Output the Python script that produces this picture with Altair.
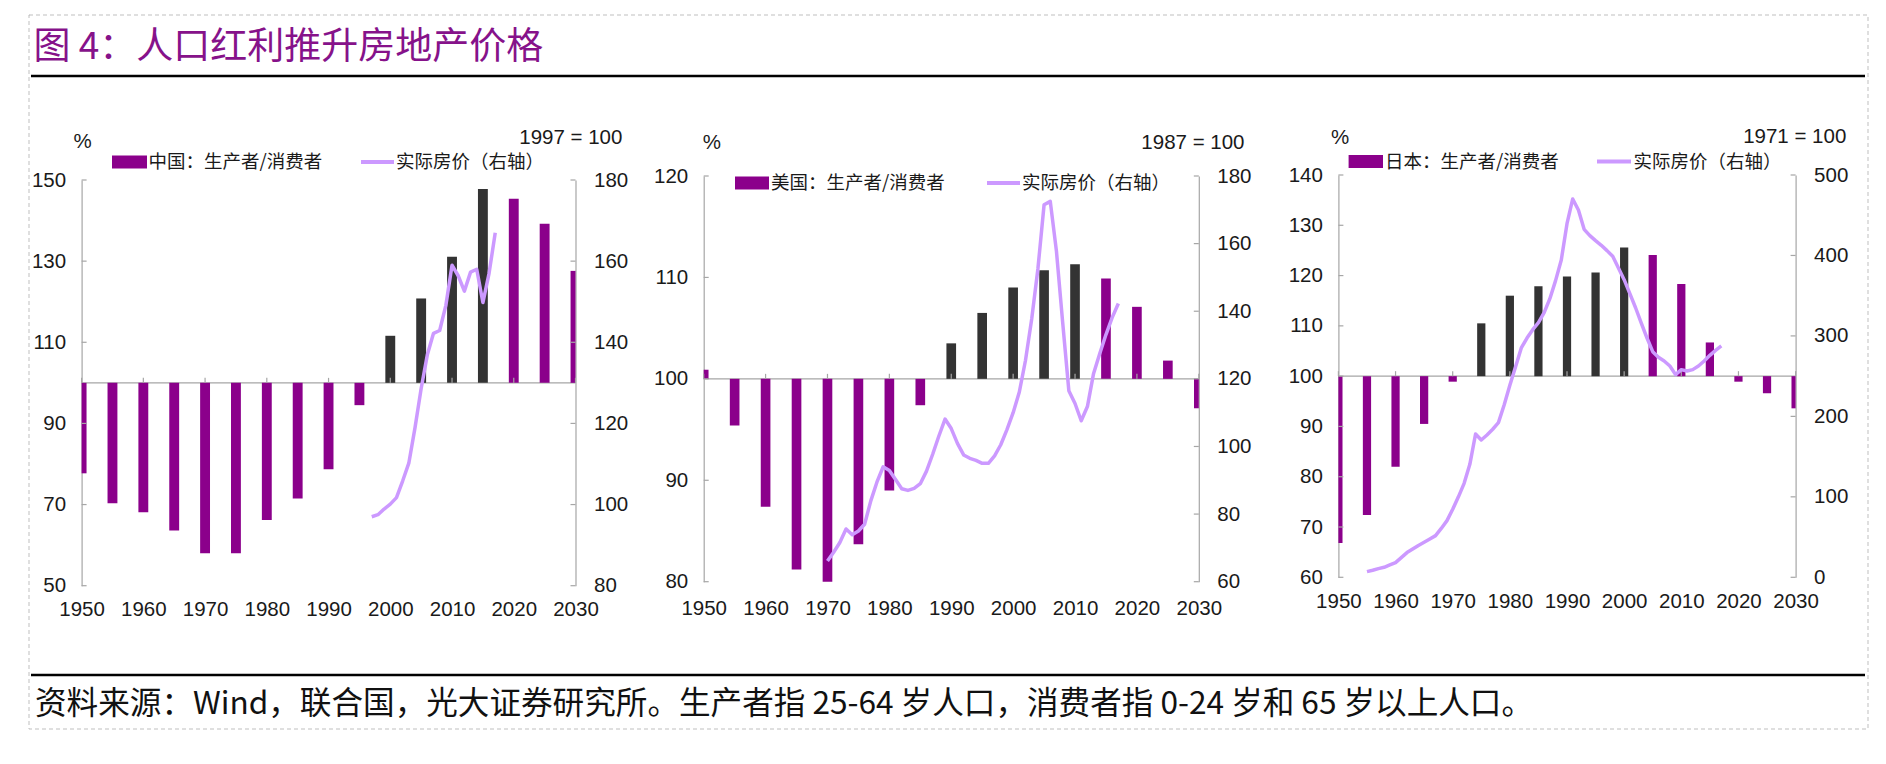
import altair as alt
import pandas as pd

# ---------------- data ----------------
bar_years = list(range(1950, 2031, 5))

cn_ratio = [77.7, 70.3, 68.1, 63.6, 58.0, 58.0, 66.2, 71.5, 78.7, 94.5,
            111.6, 120.8, 131.1, 147.8, 145.4, 139.2, 127.6]
cn_phase = ["other"] * 10 + ["dividend"] * 4 + ["other"] * 3

us_ratio = [100.9, 95.4, 87.4, 81.2, 80.0, 83.7, 89.0, 97.4, 103.5, 106.5,
            109.0, 110.7, 111.3, 109.9, 107.1, 101.8, 97.1]
us_phase = ["other"] * 8 + ["dividend"] * 5 + ["other"] * 4

jp_ratio = [66.8, 72.4, 82.0, 90.5, 98.9, 110.5, 116.0, 117.9, 119.8, 120.6,
            125.6, 124.1, 118.3, 106.7, 98.9, 96.6, 93.6]
jp_phase = ["other"] * 5 + ["dividend"] * 6 + ["other"] * 6

cn_price_years = list(range(1997, 2018))
cn_price = [97.0, 97.5, 98.9, 100.1, 101.7, 105.8, 110.2, 118.9, 128.6, 136.9,
            142.2, 142.9, 149.1, 159.0, 156.4, 152.6, 157.3, 158.0, 149.8, 157.0,
            167.0]

us_price_years = list(range(1970, 2018))
us_price = [66.1, 68.7, 71.6, 75.6, 73.9, 75.0, 77.0, 83.9, 89.5, 94.0,
            92.9, 90.2, 87.5, 87.0, 87.6, 89.0, 92.7, 97.7, 103.1, 108.1,
            105.3, 100.9, 97.5, 96.5, 95.9, 95.0, 95.0, 97.2, 100.5, 105.0,
            110.0, 116.1, 125.5, 137.7, 152.5, 171.5, 172.5, 157.7, 136.8, 116.5,
            112.7, 107.6, 111.8, 121.6, 127.5, 133.1, 138.1, 142.3]

jp_price_years = list(range(1955, 2018))
jp_price = [7.0, 8.7, 10.8, 12.4, 15.3, 18.2, 24.4, 30.7, 35.2, 39.6,
            43.5, 47.6, 51.8, 60.7, 70.4, 84.5, 100.0, 116.8, 140.4, 178.1,
            170.7, 176.9, 184.0, 192.2, 214.2, 238.6, 261.8, 285.0, 297.4, 307.8,
            316.5, 328.9, 346.3, 368.7, 394.4, 439.5, 470.2, 456.5, 432.5, 424.6,
            418.4, 412.6, 406.0, 398.9, 384.4, 369.9, 352.5, 335.0, 316.0, 297.4,
            280.4, 273.4, 268.8, 262.6, 251.9, 258.1, 256.4, 258.1, 262.6, 268.8,
            275.9, 282.1, 287.5]

year_ticks = list(range(1950, 2031, 10))
cn_left_ticks = [50, 70, 90, 110, 130, 150]
cn_right_ticks = [80, 100, 120, 140, 160, 180]
us_left_ticks = [80, 90, 100, 110, 120]
us_right_ticks = [60, 80, 100, 120, 140, 160, 180]
jp_left_ticks = [60, 70, 80, 90, 100, 110, 120, 130, 140]
jp_right_ticks = [0, 100, 200, 300, 400, 500]

title_text = "图 4：人口红利推升房地产价格"
source_text = ("资料来源：Wind，联合国，光大证券研究所。生产者指 25-64 岁人口，"
               "消费者指 0-24 岁和 65 岁以上人口。")
ratio_labels = ["中国：生产者/消费者", "美国：生产者/消费者", "日本：生产者/消费者"]
price_label = "实际房价（右轴）"
base_labels = ["1997 = 100", "1987 = 100", "1971 = 100"]
unit_label = "%"

# ---------------- style / layout ----------------
W, H = 1870, 748
PURPLE = "#8B008B"
DARK = "#333333"
LILAC = "#CC99FF"
AXIS_GREY = "#A6A6A6"
TEXT = "#1A1A1A"
TITLE_COLOR = "#86128A"
NUM_FONT = "Liberation Sans, Arial, sans-serif"
NUM_SIZE = 20.5
CJK_FONT = "Noto Sans CJK SC"

panels = [
    dict(years=bar_years, ratio=cn_ratio, phase=cn_phase, hw=0.8,
         pyears=cn_price_years, price=cn_price,
         ldom=[50, 150], lticks=cn_left_ticks, rdom=[80, 180], rticks=cn_right_ticks,
         x0=73.6, x1=567.5, yb=577.7, yt=172.0, xpad=14,
         leg=dict(r0=104, r1=139, ly=154, t1=140.5, l0=353, l1=386, t2=388),
         unit=(74.5, 133.7), base=(614.4, 130.3), label=ratio_labels[0], blabel=base_labels[0]),
    dict(years=bar_years, ratio=us_ratio, phase=us_phase, hw=0.78,
         pyears=us_price_years, price=us_price,
         ldom=[80, 120], lticks=us_left_ticks, rdom=[60, 180], rticks=us_right_ticks,
         x0=695.7, x1=1190.8, yb=573.7, yt=168.0, xpad=16.5,
         leg=dict(r0=727, r1=761, ly=175, t1=763, l0=979, l1=1012, t2=1014),
         unit=(703.8, 134.7), base=(1236.5, 134.7), label=ratio_labels[1], blabel=base_labels[1]),
    dict(years=bar_years, ratio=jp_ratio, phase=jp_phase, hw=0.72,
         pyears=jp_price_years, price=jp_price,
         ldom=[60, 140], lticks=jp_left_ticks, rdom=[0, 500], rticks=jp_right_ticks,
         x0=1330.4, x1=1787.6, yb=569.3, yt=167.0, xpad=14,
         leg=dict(r0=1340.6, r1=1375, ly=153.5, t1=1377, l0=1589, l1=1623, t2=1625.5),
         unit=(1332, 130.3), base=(1838.3, 129.3), label=ratio_labels[2], blabel=base_labels[2]),
]


def one_row(**kw):
    return pd.DataFrame({k: [v] for k, v in kw.items()})


def text_layer(s, x, y, size, font, align="left", color=TEXT):
    return alt.Chart(one_row(t=s)).mark_text(
        align=align, baseline="middle", font=font, fontSize=size, color=color
    ).encode(x=alt.value(x), y=alt.value(y), text="t:N")


common_axis = dict(labelFont=NUM_FONT, labelFontSize=NUM_SIZE, labelColor=TEXT, grid=False,
                   title=None, labelOverlap=False, labelFlush=False,
                   ticks=True, tickSize=0, tickOpacity=0)


def panel_layers(p):
    xs = alt.Scale(domain=[1950, 2030], range=[p["x0"], p["x1"]], clamp=True, nice=False, zero=False)
    yl = alt.Scale(domain=p["ldom"], range=[p["yb"], p["yt"]], nice=False, zero=False)
    yr = alt.Scale(domain=p["rdom"], range=[p["yb"], p["yt"]], nice=False, zero=False)

    x_axis = alt.Axis(orient="bottom", offset=p["yb"] - H, values=year_ticks, format="d",
                      domain=False, labelPadding=p["xpad"], **common_axis)
    left_axis = alt.Axis(orient="left", offset=-p["x0"], values=p["lticks"], domain=True,
                         domainColor=AXIS_GREY, domainWidth=1.2, labelPadding=16, **common_axis)
    right_axis = alt.Axis(orient="right", offset=p["x1"] - W, values=p["rticks"], domain=True,
                          domainColor=AXIS_GREY, domainWidth=1.2, labelPadding=18, **common_axis)

    df = pd.DataFrame({"year": p["years"], "ratio": p["ratio"], "phase": p["phase"]})
    bars = alt.Chart(df).transform_calculate(
        xa=f"datum.year - {p['hw']}", xb=f"datum.year + {p['hw']}"
    ).mark_bar().encode(
        x=alt.X("xa:Q", scale=xs, axis=x_axis),
        x2="xb:Q",
        y=alt.Y("ratio:Q", scale=yl, axis=left_axis),
        y2=alt.Y2Datum(100),
        color=alt.Color("phase:N", scale=alt.Scale(domain=["other", "dividend"],
                                                    range=[PURPLE, DARK]), legend=None),
    )

    baseline = alt.Chart(one_row(a=0)).mark_rule(color=AXIS_GREY, strokeWidth=1.4).encode(
        x=alt.XDatum(1950, scale=xs, axis=None),
        x2=alt.X2Datum(2030),
        y=alt.YDatum(100, scale=yl, axis=None),
    )

    xticks = alt.Chart(pd.DataFrame({"yr": year_ticks})).mark_rule(
        color=AXIS_GREY, strokeWidth=1.2, yOffset=-5
    ).encode(
        x=alt.X("yr:Q", scale=xs, axis=None),
        y=alt.YDatum(100, scale=yl, axis=None),
        y2=alt.Y2Datum(100),
    )

    lticks = alt.Chart(pd.DataFrame({"v": p["lticks"]})).mark_rule(
        color=AXIS_GREY, strokeWidth=1.2, x2Offset=5
    ).encode(
        x=alt.XDatum(1950, scale=xs, axis=None),
        x2=alt.X2Datum(1950),
        y=alt.Y("v:Q", scale=yl, axis=None),
    )

    rticks = alt.Chart(pd.DataFrame({"v": p["rticks"]})).mark_rule(
        color=AXIS_GREY, strokeWidth=1.2, xOffset=-5
    ).encode(
        x=alt.XDatum(2030, scale=xs, axis=None),
        x2=alt.X2Datum(2030),
        y=alt.Y("v:Q", scale=yr, axis=right_axis),
    )

    pdf = pd.DataFrame({"year": p["pyears"], "price": p["price"]})
    line = alt.Chart(pdf).mark_line(color=LILAC, strokeWidth=3.5, strokeJoin="round").encode(
        x=alt.X("year:Q", scale=xs, axis=None),
        y=alt.Y("price:Q", scale=yr, axis=None),
    )

    lg = p["leg"]
    swatch = alt.Chart(one_row(a=0)).mark_rect(color=PURPLE).encode(
        x=alt.value(lg["r0"]), x2=alt.value(lg["r1"]),
        y=alt.value(lg["ly"] - 6.5), y2=alt.value(lg["ly"] + 6.5))
    lswatch = alt.Chart(one_row(a=0)).mark_rule(color=LILAC, strokeWidth=4).encode(
        x=alt.value(lg["l0"]), x2=alt.value(lg["l1"]), y=alt.value(lg["ly"]))

    texts = [
        text_layer(p["label"], lg["t1"], lg["ly"], 18.5, CJK_FONT),
        text_layer(price_label, lg["t2"], lg["ly"], 18.5, CJK_FONT),
        text_layer(unit_label, p["unit"][0], p["unit"][1], NUM_SIZE, NUM_FONT, align="center"),
        text_layer(p["blabel"], p["base"][0], p["base"][1], NUM_SIZE, NUM_FONT, align="right"),
    ]
    return [baseline, bars, xticks, lticks, rticks, line, swatch, lswatch] + texts


layers = []

frame = alt.Chart(one_row(a=0)).mark_rect(
    fillOpacity=0, stroke="#BFBFBF", strokeWidth=1, strokeDash=[4, 3]
).encode(x=alt.value(21), x2=alt.value(1860), y=alt.value(7), y2=alt.value(721))
layers.append(frame)

layers.append(text_layer(title_text, 25.5, 40, 37, CJK_FONT, color=TITLE_COLOR))
layers.append(alt.Chart(one_row(a=0)).mark_rule(color="black", strokeWidth=2.5).encode(
    x=alt.value(23), x2=alt.value(1857), y=alt.value(68)))
layers.append(alt.Chart(one_row(a=0)).mark_rule(color="black", strokeWidth=2.5).encode(
    x=alt.value(23), x2=alt.value(1857), y=alt.value(667)))
layers.append(text_layer(source_text, 27, 697, 31.6, CJK_FONT, color="#111111"))

for p in panels:
    layers.extend(panel_layers(p))

chart = alt.layer(*layers).resolve_scale(
    x="independent", y="independent"
).properties(
    width=W, height=H, padding=0, background="white",
    autosize=alt.AutoSizeParams(type="none"),
).configure_view(strokeWidth=0)

chart.save("out.html", embed_options={"renderer": "svg", "actions": False})
